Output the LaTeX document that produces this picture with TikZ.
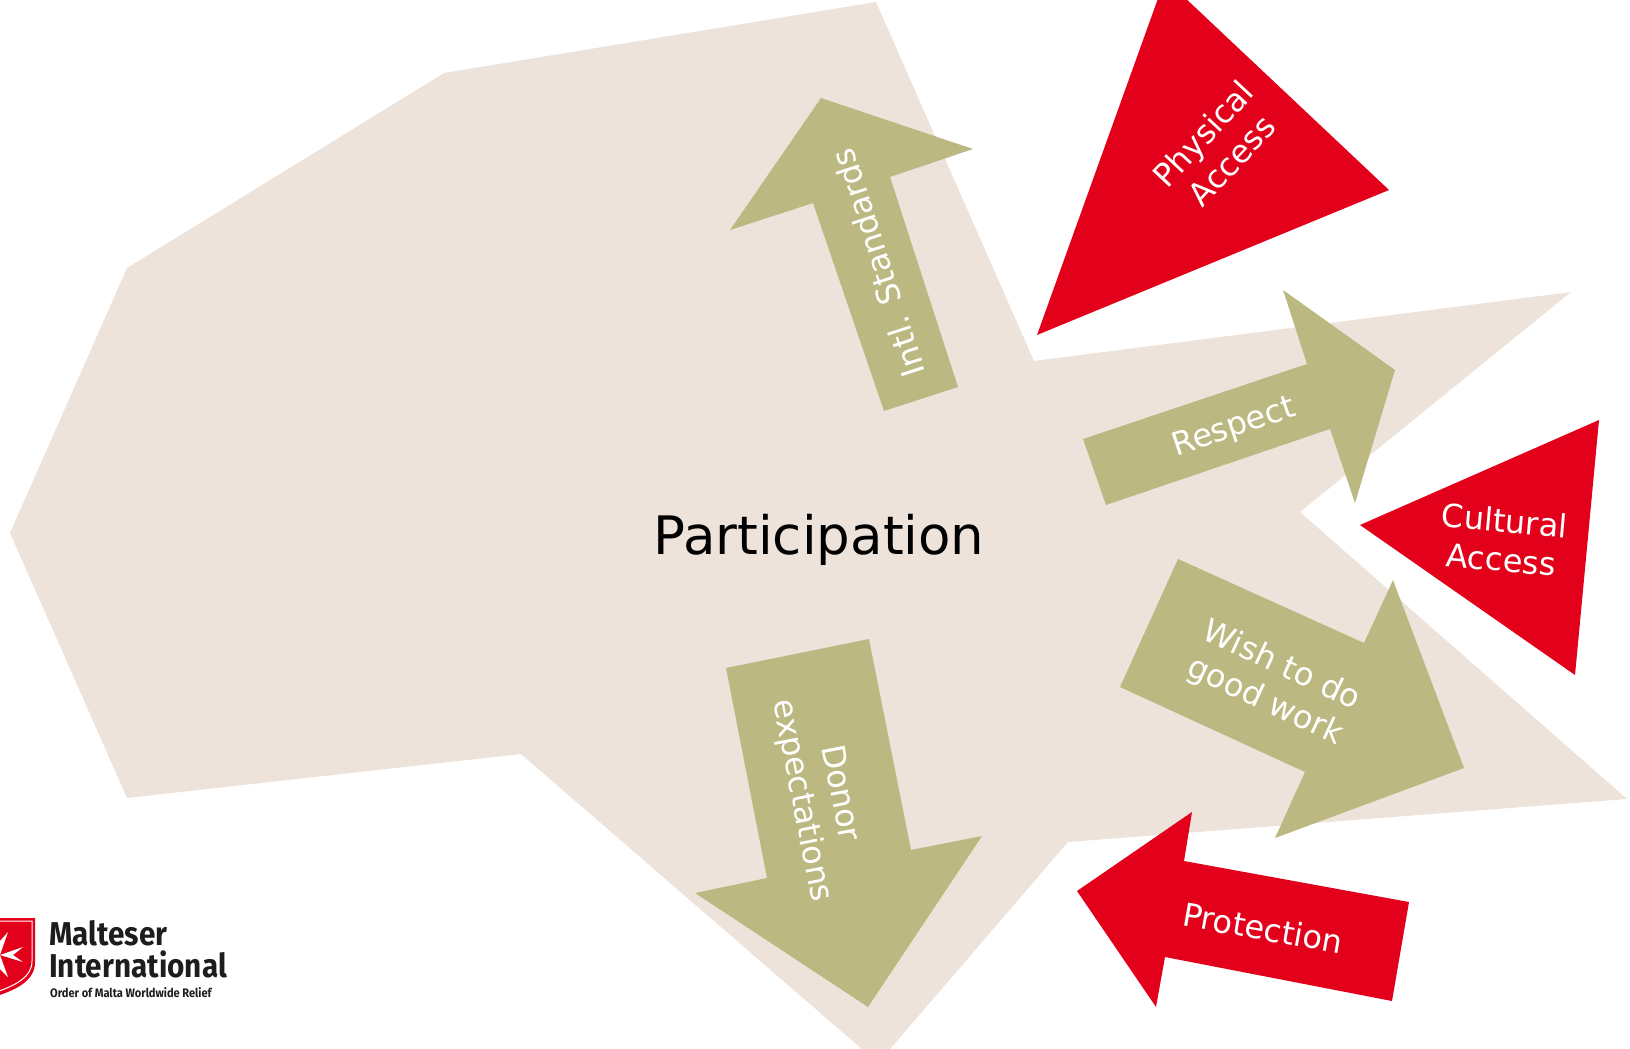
\documentclass[tikz,border=0pt]{standalone}
\usepackage{fontspec}
\setmainfont{DejaVu Sans}
\newfontfamily\logofont[FakeStretch=0.9]{Fira Sans}
\definecolor{beigebg}{HTML}{EDE3DA}
\definecolor{olivearrow}{HTML}{BCB881}
\definecolor{maltared}{HTML}{E2001A}
\definecolor{logotext}{HTML}{1D1D1B}

\begin{document}
\begin{tikzpicture}[x=1pt,y=-1pt,
    backshape/.style={fill=beigebg},
    olive/.style={fill=olivearrow},
    redshape/.style={fill=maltared},
    lbl/.style={
        text=white,
        align=center,
        inner sep=0pt,
        font=\fontsize{32}{39}\selectfont
        },
    logoline/.style={
        anchor=base west,
        inner sep=0pt,
        text=logotext
        }]

    \clip (0,0) rectangle (1630,1049);

    % background
    \fill[backshape] (876,2) -- (1034,361) -- (1571,292) -- (1300,512) -- (1627,799) -- (1068,842)
        -- (878,1063) -- (521,754) -- (127,798) -- (10,533) -- (127,268) -- (444,73) -- cycle;

    \node (participation) [inner sep=0pt, font=\fontsize{53}{60}\selectfont] at (819,540) {Participation};

    % olive arrows
    \fill[olive] (884,411) -- (813,203) -- (730,230) -- (821,98) -- (973,149) -- (890,177) -- (958,387) -- cycle;
    \fill[olive] (1083,439) -- (1307,364) -- (1283,290) -- (1395,370) -- (1355,503) -- (1330,429) -- (1106,505) -- cycle;
    \fill[olive] (1178,559) -- (1364,643) -- (1393,580) -- (1464,768) -- (1275,838) -- (1305,772) -- (1120,687) -- cycle;
    \fill[olive] (726,668) -- (869,639) -- (911,850) -- (982,836) -- (868,1007) -- (695,893) -- (767,878) -- cycle;

    % red shapes
    \fill[redshape] (1037,335) -- (1389,190) -- (1165,-21) -- cycle;
    \fill[redshape] (1360,525) -- (1599,420) -- (1575,675) -- cycle;
    \fill[redshape] (1409,902) -- (1184,861) -- (1192,812) -- (1077,891) -- (1156,1007) -- (1165,957) -- (1392,1001) -- cycle;

    \node (intl) [lbl, rotate=108] at (878,263) {Intl. Standards};
    \node (respect) [lbl, rotate=18.5] at (1234,428) {Respect};
    \node (wish) [lbl, rotate=-25] at (1273,684) {Wish to do\\good work};
    \node (donor) [lbl, rotate=-79] at (820,797) {Donor\\expectations};
    \node (physical) [lbl, rotate=47] at (1217,147) {Physical\\Access};
    \node (cultural) [lbl, rotate=-5] at (1503,540) {Cultural\\Access};
    \node (protection) [lbl, rotate=-10] at (1263,928) {Protection};

    % logo
    \fill[maltared] (-10,918) -- (35,918) -- (35,962) .. controls (35,980) and (18,990) .. (-10,998) -- cycle;
    \draw[white, line width=1pt] (-10,921) -- (32,921) -- (32,961) .. controls (32,977) and (16,986) .. (-10,994);
    \fill[white] (0,955) -- (8,932) -- (0,941) -- (-8,932) -- cycle;
    \fill[white] (0,955) -- (23,947) -- (13,955) -- (23,962) -- cycle;
    \fill[white] (0,955) -- (8,977) -- (0,969) -- (-8,977) -- cycle;

    \node (malteser) [logoline, font=\logofont\bfseries\fontsize{33}{36}\selectfont] at (49,945) {Malteser};
    \node (international) [logoline, font=\logofont\bfseries\fontsize{33}{36}\selectfont] at (49,977) {International};
    \node (order) [logoline, font=\logofont\bfseries\fontsize{12.3}{14}\selectfont] at (50,997) {Order of Malta Worldwide Relief};
\end{tikzpicture}
\end{document}
